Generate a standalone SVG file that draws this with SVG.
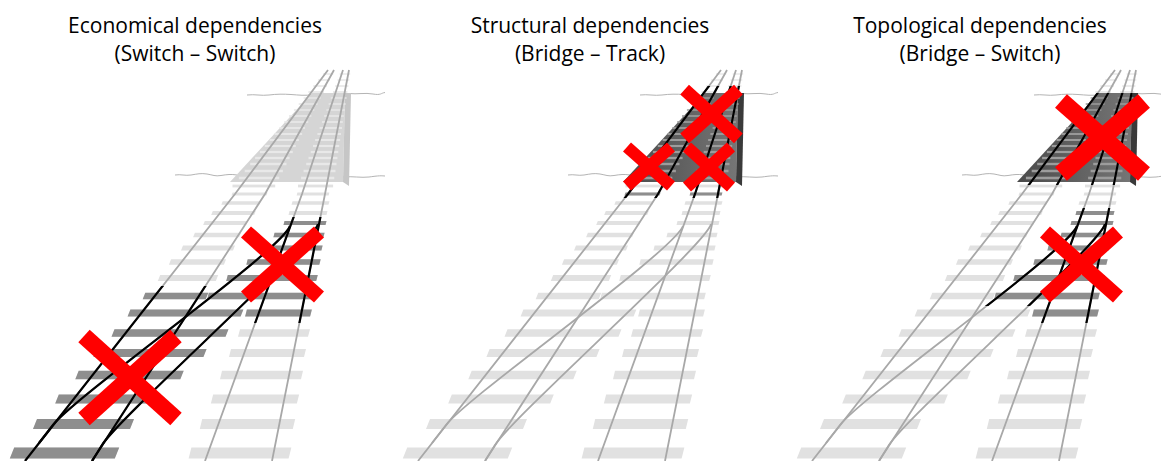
<svg xmlns="http://www.w3.org/2000/svg" xmlns:xlink="http://www.w3.org/1999/xlink" width="1161" height="461" viewBox="0 0 1161 461">
<style>
.t{font-family:"Open Sans","Liberation Sans",sans-serif;font-size:21px;fill:#000;text-anchor:middle}
.rail{fill:none;stroke:#a8a8a8;stroke-width:1.8}
.blk{fill:none;stroke:#000;stroke-width:2.2}
.x{stroke:#ff0000;stroke-linecap:butt;fill:none}
.hz{fill:none;stroke:#b4b4b4;stroke-width:1}
</style>
<defs>
<linearGradient id="gDeck" x1="0" y1="0" x2="1" y2="0">
<stop offset="0" stop-color="#4a4a4a"/>
<stop offset="1" stop-color="#767676"/>
</linearGradient>
<clipPath id="cBr2"><rect x="590" y="86" width="170" height="112"/></clipPath>
<clipPath id="cBr3"><rect x="590" y="93" width="170" height="92"/></clipPath>
<clipPath id="cP1L"><rect x="380" y="286" width="300" height="180"/></clipPath>
<clipPath id="cP1R"><rect x="600" y="217" width="160" height="106"/></clipPath>
<clipPath id="cP3R"><rect x="600" y="208" width="160" height="115"/></clipPath>
<clipPath id="cP3C"><rect x="560" y="200" width="200" height="106"/></clipPath>
<g id="horizon">
<path d="M640,95 C648,94 654,96 662,95 S676,94 684,94.5 S698,96 706,94.5"/>
<path d="M742,93.5 C750,94.5 758,92.5 766,94 S774,93 778,92.5"/>
<path d="M568,175 C574,174 578,176 584,175 S594,173 600,174 S608,176.5 614,175.5 S624,174 630,175"/>
<path d="M736,177 C746,176 754,178 762,177 S772,175.5 778,176"/>
</g>
<polygon id="deck" points="705,93 738,93 736,182 623,182"/>
<polygon id="wall" points="738,93 744,93 742,186 736,182"/>
<g id="bties">
<rect x="631.9" y="176.7" width="40.4" height="2.6"/><rect x="694.1" y="176.7" width="33.2" height="2.6"/>
<rect x="637.7" y="169.75" width="38.2" height="2.5"/><rect x="696.6" y="169.75" width="31.9" height="2.5"/>
<rect x="643.2" y="162.8" width="36.3" height="2.4"/><rect x="699.2" y="162.8" width="30.3" height="2.4"/>
<rect x="648.1" y="156.85" width="34.5" height="2.3"/><rect x="701.5" y="156.85" width="28.9" height="2.3"/>
<rect x="652.9" y="150.9" width="32.9" height="2.2"/><rect x="703.7" y="150.9" width="27.6" height="2.2"/>
<rect x="657.8" y="144.95" width="31" height="2.1"/><rect x="706" y="144.95" width="26.2" height="2.1"/>
<rect x="662.6" y="139" width="29.3" height="2"/><rect x="708.1" y="139" width="25" height="2"/>
<rect x="667.5" y="133.05" width="27.6" height="1.9"/><rect x="710.4" y="133.05" width="23.6" height="1.9"/>
<rect x="672.3" y="127.1" width="25.8" height="1.8"/><rect x="712.6" y="127.1" width="22.4" height="1.8"/>
<rect x="677.2" y="121.15" width="24.1" height="1.7"/><rect x="714.9" y="121.15" width="20.9" height="1.7"/>
<rect x="682" y="115.2" width="22.4" height="1.6"/><rect x="717.1" y="115.2" width="19.7" height="1.6"/>
<rect x="686.9" y="109.25" width="20.5" height="1.5"/><rect x="719.4" y="109.25" width="18.4" height="1.5"/>
<rect x="691.7" y="103.25" width="18.9" height="1.5"/><rect x="721.6" y="103.25" width="17" height="1.5"/>
<rect x="696.6" y="97.3" width="17.1" height="1.4"/><rect x="723.7" y="97.3" width="15.9" height="1.4"/>
</g>
<g id="ties">
<polygon id="l1" points="402.8,458.5 507.8,458.5 512.2,447.5 407.2,447.5"/>
<polygon id="l2" points="426,429 523,429 527,419 430,419"/>
<polygon id="l3" points="448.2,403.5 550.2,403.5 553.8,394.5 451.8,394.5"/>
<polygon id="l4" points="468.3,379.3 573.3,379.3 576.7,370.7 471.7,370.7"/>
<polygon id="l5" points="486.4,357 596.4,357 599.6,349 489.6,349"/>
<polygon id="l6" points="504.5,336.8 618.5,336.8 621.5,329.2 507.5,329.2"/>
<polygon id="l7" points="520.6,316.5 633.6,316.5 636.4,309.5 523.4,309.5"/>
<polygon id="l8" points="535.7,299.3 598.7,299.3 601.3,292.7 538.3,292.7"/>
<polygon id="l9" points="550.8,281 608.8,281 611.2,275 553.2,275"/>
<polygon id="l10" points="561.9,264.8 616.9,264.8 619.1,259.2 564.1,259.2"/>
<polygon id="l11" points="574,250.5 626,250.5 628,245.5 576,245.5"/>
<polygon id="l12" points="586.1,237.3 632.1,237.3 633.9,232.7 587.9,232.7"/>
<polygon id="l13" points="596.2,225 639.2,225 640.8,221 597.8,221"/>
<polygon id="l14" points="604.2,215 647.2,215 648.8,211 605.8,211"/>
<polygon id="l15" points="614.3,204.8 652.3,204.8 653.7,201.2 615.7,201.2"/>
<polygon id="l16" points="624.4,195.5 659.4,195.5 660.6,192.5 625.6,192.5"/>
<polygon id="r1" points="581.6,458.5 681.6,458.5 684.4,447.5 584.4,447.5"/>
<polygon id="r2" points="592.8,429 685.8,429 688.2,419 595.2,419"/>
<polygon id="r3" points="603.9,403.5 689.9,403.5 692.1,394.5 606.1,394.5"/>
<polygon id="r4" points="613,379.3 694,379.3 696,370.7 615,370.7"/>
<polygon id="r5" points="622,357 697,357 699,349 624,349"/>
<polygon id="r6" points="631,336.8 701,336.8 703,329.2 633,329.2"/>
<polygon id="r7" points="638.1,316.5 703.1,316.5 704.9,309.5 639.9,309.5"/>
<polygon id="r8" points="600.2,299.3 704.2,299.3 705.8,292.7 601.8,292.7"/>
<polygon id="r9" points="619.2,281 709.2,281 710.8,275 620.8,275"/>
<polygon id="r10" points="639.3,264.8 712.3,264.8 713.7,259.2 640.7,259.2"/>
<polygon id="r11" points="653.4,250.5 714.4,250.5 715.6,245.5 654.6,245.5"/>
<polygon id="r12" points="666.4,237.3 716.4,237.3 717.6,232.7 667.6,232.7"/>
<polygon id="r13" points="676.5,225 718.5,225 719.5,221 677.5,221"/>
<polygon id="r14" points="681.5,215 719.5,215 720.5,211 682.5,211"/>
<polygon id="r15" points="684.5,204.8 721.5,204.8 722.5,201.2 685.5,201.2"/>
<polygon id="r16" points="689.6,195.5 721.6,195.5 722.4,192.5 690.4,192.5"/>
<rect x="625.5" y="184.6" width="42.7" height="2.8"/><rect x="691" y="184.6" width="35.1" height="2.8"/>
<rect x="701.4" y="91.3" width="15.5" height="1.4"/><rect x="726" y="91.3" width="14.4" height="1.4"/>
<rect x="706.3" y="85.35" width="13.6" height="1.3"/><rect x="728.2" y="85.35" width="13.2" height="1.3"/>
<rect x="711.1" y="79.4" width="11.9" height="1.2"/><rect x="730.5" y="79.4" width="11.8" height="1.2"/>
<rect x="716" y="73.45" width="10.2" height="1.1"/><rect x="732.7" y="73.45" width="10.5" height="1.1"/>
</g>
<g id="rails">
<path id="rA" d="M418,461 L628,194 L721,70"/>
<path id="rB" d="M485,461 L658,194 L727,70"/>
<path id="rC" d="M598,461 L695,194 L736,70"/>
<path id="rD" d="M665,461 L718,194 L742,70"/>
<path id="c1" d="M683,226 C673,252 469.5,395 446,425 L432,443"/>
<path id="c2" d="M711,224 C707,244 514.4,415 495,445 L485,461"/>
</g>
</defs>
<rect width="1161" height="461" fill="#ffffff"/>

<g id="panel1">
<text class="t" x="195" y="33">Economical dependencies</text>
<text class="t" x="195" y="61">(Switch – Switch)</text>
<g id="scene1" transform="translate(-393,0)">
<use href="#horizon" class="hz"/>
<use href="#deck" fill="#d5d5d5"/>
<use href="#wall" fill="#c6c6c6"/>
<use href="#bties" fill="#e8e8e8"/>
<use href="#ties" fill="#e1e1e1"/>
<g fill="#8e8e8e">
<use href="#l1"/><use href="#l2"/><use href="#l3"/><use href="#l4"/><use href="#l5"/><use href="#l6"/><use href="#l7"/><use href="#l8"/>
<use href="#r7"/><use href="#r8"/><use href="#r9"/><use href="#r10"/><use href="#r11"/><use href="#r12"/><use href="#r13"/>
</g>
<use href="#rails" class="rail"/>
<g class="blk">
<g clip-path="url(#cP1L)"><use href="#rA"/><use href="#rB"/></g>
<g clip-path="url(#cP1R)"><use href="#rC"/><use href="#rD"/></g>
<use href="#c1"/><use href="#c2"/>
</g>
</g>
<g id="marks1" class="x">
<g stroke-width="17"><line x1="84" y1="336" x2="176" y2="419"/><line x1="176" y1="336" x2="84" y2="419"/></g>
<g stroke-width="15"><line x1="246" y1="232" x2="319" y2="297"/><line x1="319" y1="232" x2="246" y2="297"/></g>
</g>
</g>

<g id="panel2">
<text class="t" x="590" y="33">Structural dependencies</text>
<text class="t" x="590" y="61">(Bridge – Track)</text>
<g id="scene2">
<use href="#horizon" class="hz"/>
<use href="#deck" fill="url(#gDeck)"/>
<use href="#wall" fill="#3a3a3a"/>
<use href="#bties" fill="#9c9c9c"/>
<use href="#ties" fill="#e1e1e1"/>
<g fill="#8e8e8e"><use href="#l16"/><use href="#r16"/></g>
<use href="#rails" class="rail"/>
<g class="blk" clip-path="url(#cBr2)"><use href="#rA"/><use href="#rB"/><use href="#rC"/><use href="#rD"/></g>
</g>
<g id="marks2" class="x">
<g stroke-width="13"><line x1="684.6" y1="89.6" x2="738.4" y2="138.4"/><line x1="738.4" y1="89.6" x2="684.6" y2="138.4"/></g>
<g stroke-width="12"><line x1="627" y1="147" x2="671" y2="186"/><line x1="671" y1="147" x2="627" y2="186"/></g>
<g stroke-width="12"><line x1="687" y1="147" x2="731" y2="187"/><line x1="731" y1="147" x2="687" y2="187"/></g>
</g>
</g>

<g id="panel3">
<text class="t" x="980" y="33">Topological dependencies</text>
<text class="t" x="980" y="61">(Bridge – Switch)</text>
<g id="scene3" transform="translate(394,0)">
<use href="#horizon" class="hz"/>
<use href="#deck" fill="url(#gDeck)"/>
<use href="#wall" fill="#3a3a3a"/>
<use href="#bties" fill="#9c9c9c"/>
<use href="#ties" fill="#e1e1e1"/>
<g fill="#8e8e8e">
<use href="#r7"/><use href="#r8"/><use href="#r9"/><use href="#r10"/><use href="#r11"/><use href="#r12"/><use href="#r13"/><use href="#r14"/>
</g>
<use href="#rails" class="rail"/>
<g class="blk">
<g clip-path="url(#cBr3)"><use href="#rA"/><use href="#rB"/><use href="#rC"/><use href="#rD"/></g>
<g clip-path="url(#cP3R)"><use href="#rC"/><use href="#rD"/></g>
<g clip-path="url(#cP3C)"><use href="#c1"/><use href="#c2"/></g>
</g>
</g>
<g id="marks3" class="x">
<g stroke-width="18"><line x1="1061" y1="101" x2="1144" y2="174"/><line x1="1144" y1="101" x2="1061" y2="174"/></g>
<g stroke-width="15"><line x1="1045" y1="232" x2="1118" y2="297"/><line x1="1118" y1="232" x2="1045" y2="297"/></g>
</g>
</g>
</svg>
